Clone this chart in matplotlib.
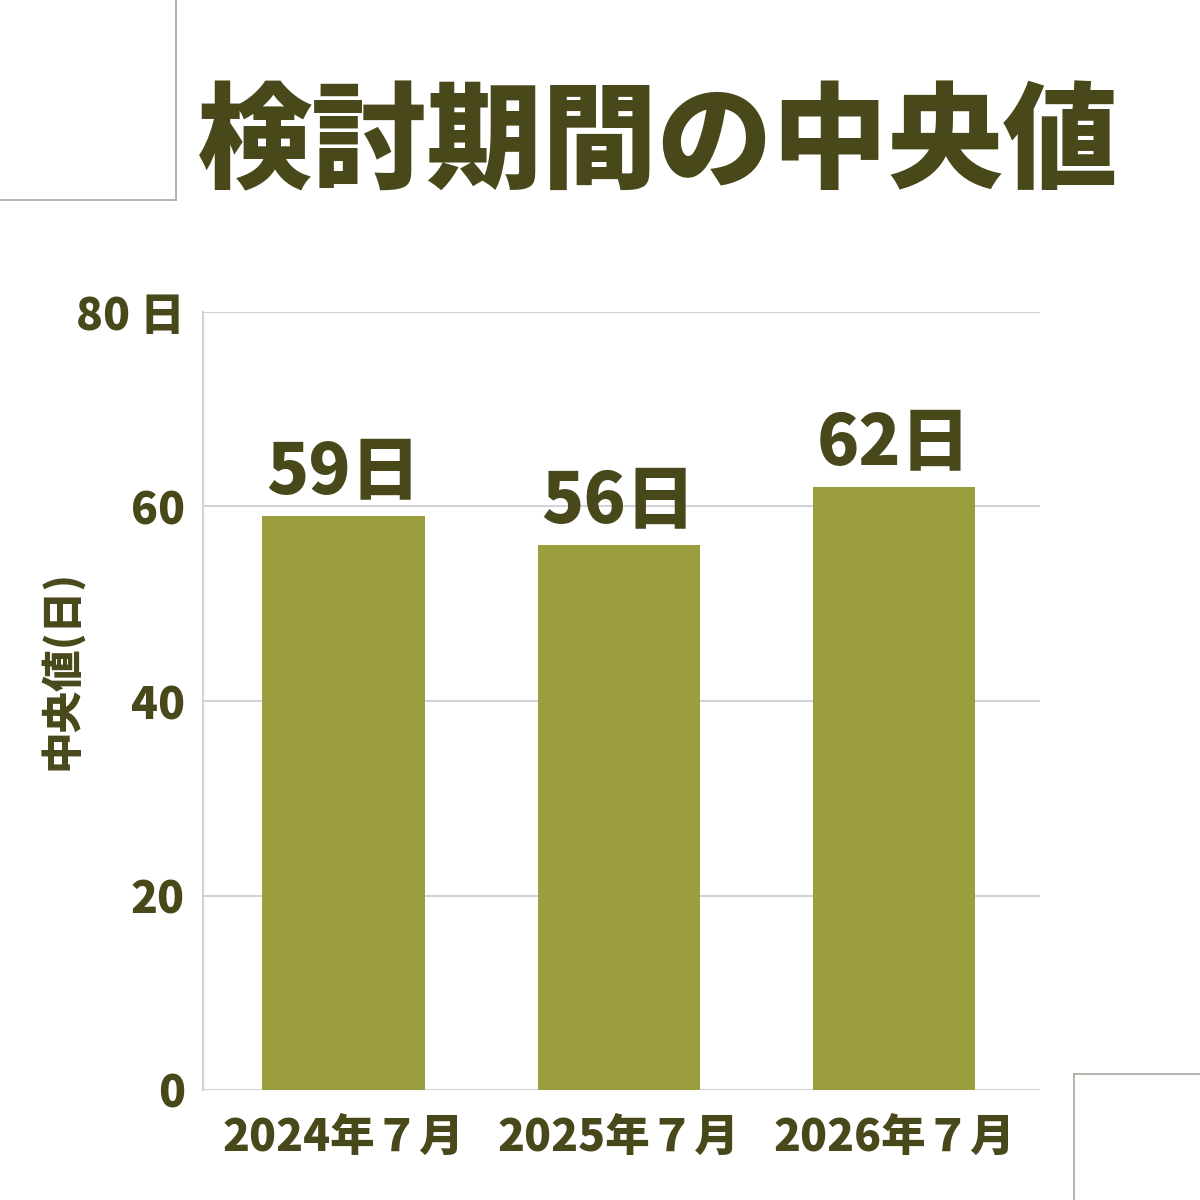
import matplotlib
matplotlib.use('Agg')
import matplotlib.pyplot as plt
from matplotlib.lines import Line2D

plt.rcParams['font.family'] = ['Noto Sans CJK JP', 'DejaVu Sans']

# data
categories = ['2024年７月', '2025年７月', '2026年７月']
values = [59, 56, 62]
y_ticks = [0, 20, 40, 60, 80]
y_tick_labels = ['0', '20', '40', '60', '80 日']

text_color = '#48481a'
bar_color = '#9a9e3c'
grid_color = '#d2d2da'

fig = plt.figure(figsize=(12, 12), dpi=100)
ax = fig.add_axes([203 / 1200, 1 - 1090 / 1200, (1040 - 203) / 1200, (1090 - 312) / 1200])

x = range(len(categories))
bars = ax.bar(x, values, width=0.59, color=bar_color, zorder=3)

for b, v in zip(bars, values):
    ax.text(b.get_x() + b.get_width() / 2, v + 0.8, f'{v}日', ha='center', va='bottom',
            fontsize=50, fontweight=900, color=text_color)

ax.set_xlim(-0.51, 2.53)
ax.set_ylim(0, 80)
ax.set_yticks(y_ticks)
ax.set_yticklabels(y_tick_labels)
ax.set_xticks(list(x))
ax.set_xticklabels(categories)
ax.tick_params(axis='y', length=0, pad=13, labelsize=32, labelcolor=text_color)
ax.tick_params(axis='x', length=0, pad=18, labelsize=32, labelcolor=text_color)
for lbl in ax.get_xticklabels() + ax.get_yticklabels():
    lbl.set_fontweight(800)

ax.grid(axis='y', color=grid_color, linewidth=1.5, zorder=0)
for s in ['top', 'right', 'bottom']:
    ax.spines[s].set_visible(False)
ax.spines['left'].set_color(grid_color)
ax.spines['left'].set_linewidth(1.5)

ax.set_ylabel('中央値(日)', fontsize=30, fontweight=800, color=text_color)
ax.yaxis.label.set_va('center')
ax.yaxis.set_label_coords(-0.168, 0.54)

# title
fig.text(658 / 1200, 1 - 146 / 1200, '検討期間の中央値', ha='center', va='center',
         fontsize=83, fontweight=900, color=text_color)

# corner boxes
frame_color = '#a8a8a0'
fig.add_artist(Line2D([176 / 1200, 176 / 1200], [1, 1 - 200 / 1200], color=frame_color, lw=1.2))
fig.add_artist(Line2D([0, 176 / 1200], [1 - 200 / 1200, 1 - 200 / 1200], color=frame_color, lw=1.2))
fig.add_artist(Line2D([1074 / 1200, 1], [1 - 1074 / 1200, 1 - 1074 / 1200], color=frame_color, lw=1.2))
fig.add_artist(Line2D([1074 / 1200, 1074 / 1200], [1 - 1074 / 1200, 0], color=frame_color, lw=1.2))

fig.savefig('out.png', dpi=100, facecolor='white')
